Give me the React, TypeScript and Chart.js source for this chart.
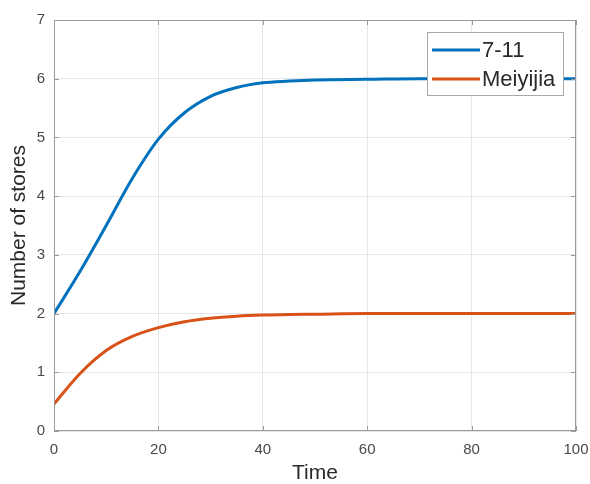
import React, { useEffect, useRef } from "react";
import { Chart, registerables } from "chart.js";

Chart.register(...registerables);

const TIME = [0, 5, 10, 15, 20, 25, 30, 35, 40, 45, 50, 60, 70, 80, 90, 100];
const SEVEN_ELEVEN = [2.0, 2.72, 3.5, 4.3, 4.97, 5.42, 5.7, 5.85, 5.93, 5.96, 5.98, 5.99, 6.0, 6.0, 6.0, 6.0];
const MEIYIJIA = [0.46, 0.98, 1.37, 1.61, 1.76, 1.86, 1.92, 1.955, 1.975, 1.985, 1.99, 2.0, 2.0, 2.0, 2.0, 2.0];
const SERIES_LABELS = ["7-11", "Meiyijia"];
const SERIES_COLORS = ["#0072BD", "#D95319"];
const X_TICKS = [0, 20, 40, 60, 80, 100];
const Y_TICKS = [0, 1, 2, 3, 4, 5, 6, 7];

const FONT = "'Liberation Sans', Arial, Helvetica, sans-serif";
const AXIS_COLOR = "#9a9a9a";

const boxPlugin = {
  id: "matlabBox",
  afterDraw(chart: any) {
    const { ctx, chartArea } = chart;
    const { left, right, top, bottom } = chartArea;
    const xs = chart.scales.x;
    const ys = chart.scales.y;
    ctx.save();
    ctx.strokeStyle = AXIS_COLOR;
    ctx.lineWidth = 1;
    ctx.strokeRect(left + 0.5, top + 0.5, right - left - 1, bottom - top - 1);
    const tl = 5;
    ctx.beginPath();
    X_TICKS.forEach((v) => {
      const px = Math.round(xs.getPixelForValue(v)) + 0.5;
      ctx.moveTo(px, bottom);
      ctx.lineTo(px, bottom - tl);
      ctx.moveTo(px, top);
      ctx.lineTo(px, top + tl);
    });
    Y_TICKS.forEach((v) => {
      const py = Math.round(ys.getPixelForValue(v)) + 0.5;
      ctx.moveTo(left, py);
      ctx.lineTo(left + tl, py);
      ctx.moveTo(right, py);
      ctx.lineTo(right - tl, py);
    });
    ctx.stroke();

    // legend
    const lx = 427, ly = 32, lw = 137, lh = 64;
    ctx.fillStyle = "#ffffff";
    ctx.fillRect(lx, ly, lw, lh);
    ctx.strokeStyle = "#a8a8a8";
    ctx.strokeRect(lx + 0.5, ly + 0.5, lw - 1, lh - 1);
    const rows = [50, 79];
    chart.data.datasets.forEach((ds: any, i: number) => {
      const y = rows[i];
      ctx.strokeStyle = ds.borderColor;
      ctx.lineWidth = 3;
      ctx.beginPath();
      ctx.moveTo(432, y);
      ctx.lineTo(480, y);
      ctx.stroke();
      ctx.fillStyle = "#2a2a2a";
      ctx.font = `22px ${FONT}`;
      ctx.textBaseline = "middle";
      ctx.textAlign = "left";
      ctx.fillText(ds.label, 482, y + 1);
    });
    ctx.restore();
  },
};

export default function App() {
  const ref = useRef<HTMLCanvasElement>(null);
  useEffect(() => {
    if (!ref.current) return;
    const chart = new Chart(ref.current, {
      type: "line",
      data: {
        datasets: [
          {
            label: SERIES_LABELS[0],
            data: TIME.map((t, i) => ({ x: t, y: SEVEN_ELEVEN[i] })),
            borderColor: SERIES_COLORS[0],
            borderWidth: 3,
            pointRadius: 0,
            cubicInterpolationMode: "monotone",
            fill: false,
          },
          {
            label: SERIES_LABELS[1],
            data: TIME.map((t, i) => ({ x: t, y: MEIYIJIA[i] })),
            borderColor: SERIES_COLORS[1],
            borderWidth: 3,
            pointRadius: 0,
            cubicInterpolationMode: "monotone",
            fill: false,
          },
        ],
      },
      options: {
        responsive: false,
        animation: false,
        layout: { padding: { top: 20, right: 14, left: 0, bottom: 0 } },
        plugins: { legend: { display: false }, tooltip: { enabled: false } },
        scales: {
          x: {
            type: "linear",
            min: 0,
            max: 100,
            afterFit: (s: any) => { s.height = 53; s.paddingLeft = 0; s.paddingRight = 0; },
            afterBuildTicks: (s: any) => { s.ticks = X_TICKS.map((v) => ({ value: v })); },
            ticks: { color: "#4a4a4a", font: { family: FONT, size: 15 }, padding: 10, maxRotation: 0 },
            grid: { color: "#e6e6e6", drawTicks: false },
            border: { display: false },
            title: { display: true, text: "Time", color: "#2a2a2a", font: { family: FONT, size: 21, lineHeight: 1 }, padding: { top: 0, bottom: 0 } },
          },
          y: {
            type: "linear",
            min: 0,
            max: 7,
            afterFit: (s: any) => { s.width = 54; s.paddingTop = 0; s.paddingBottom = 0; },
            afterBuildTicks: (s: any) => { s.ticks = Y_TICKS.map((v) => ({ value: v })); },
            ticks: { color: "#4a4a4a", font: { family: FONT, size: 15 }, padding: 9 },
            grid: { color: "#e6e6e6", drawTicks: false },
            border: { display: false },
            title: { display: true, text: "Number of stores", color: "#2a2a2a", font: { family: FONT, size: 21, lineHeight: 1 }, padding: { top: 9, bottom: 0 } },
          },
        },
      },
      plugins: [boxPlugin],
    } as any);
    return () => chart.destroy();
  }, []);
  return (
    <div style={{ position: "fixed", left: 0, top: 0, width: 590, height: 484, background: "#fff" }}>
      <canvas ref={ref} width={590} height={484} style={{ display: "block" }} />
    </div>
  );
}
